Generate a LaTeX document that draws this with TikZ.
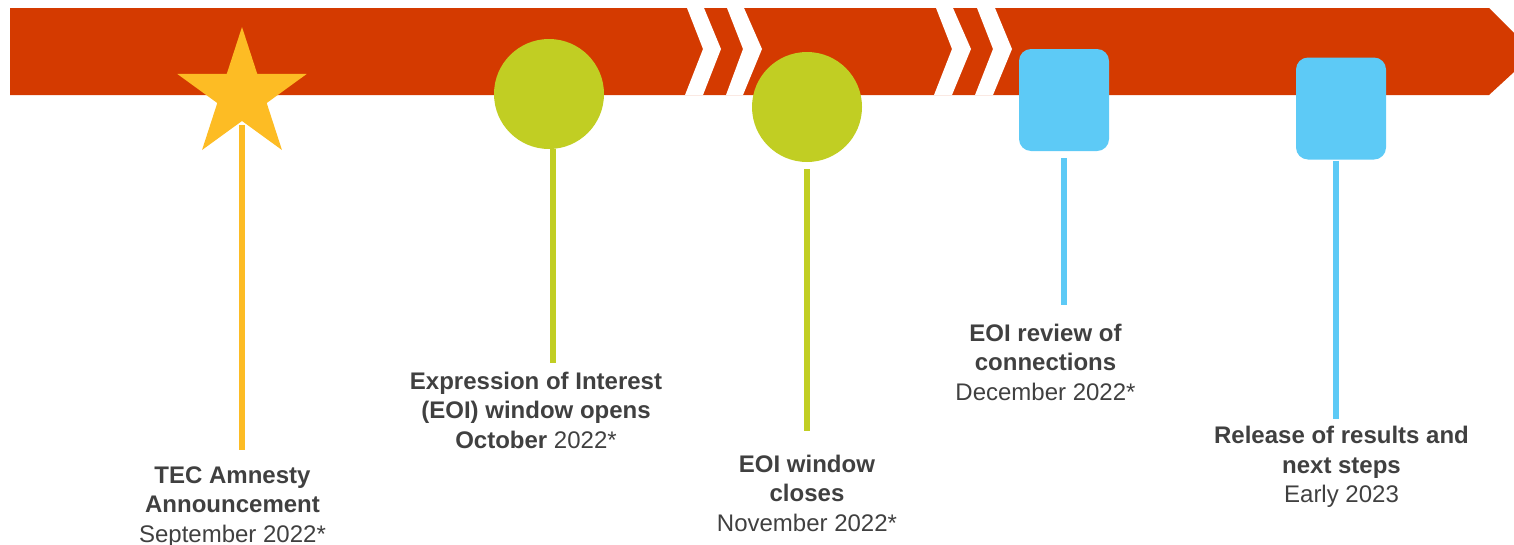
\documentclass[tikz,border=0pt]{standalone}
\usepackage{fontspec}
\setmainfont{Liberation Sans}
\usetikzlibrary{shapes.geometric}
\definecolor{bandred}{RGB}{212,58,0}
\definecolor{staryel}{RGB}{253,188,36}
\definecolor{limegr}{RGB}{193,206,35}
\definecolor{skyblu}{RGB}{93,202,246}
\definecolor{txtgray}{RGB}{64,64,64}
\begin{document}
\begin{tikzpicture}[x=1pt,y=-1pt,
  chev/.style={fill=white,draw=none},
  stem/.style={line width=6pt,line cap=butt},
  lbl/.style={align=center,text=txtgray,inner sep=0pt,font=\fontsize{24}{29.5}\selectfont},
  circ/.style={circle,fill=limegr,minimum size=110pt,inner sep=0pt,draw=none},
  sq/.style={rectangle,rounded corners=12pt,fill=skyblu,minimum width=90pt,minimum height=102pt,inner sep=0pt,draw=none}]
\useasboundingbox (0,0) rectangle (1514,544);
% band arrow
\fill[bandred] (10,8) -- (1489,8) -- (1514,33) -- (1514,72) -- (1489,95) -- (10,95) -- cycle;
% chevrons
\fill[chev] (687,8) -- (704,8) -- (721,49) -- (703,95) -- (685,95) -- (703,49) -- cycle;
\fill[chev] (727,8) -- (744,8) -- (762,49) -- (743,95) -- (726,95) -- (743,49) -- cycle;
\fill[chev] (936,8) -- (953,8) -- (971,49) -- (952,95) -- (934,95) -- (952,49) -- cycle;
\fill[chev] (977,8) -- (995,8) -- (1012,49) -- (993,95) -- (975,95) -- (993,49) -- cycle;
% milestones
\node[star,star points=5,star point ratio=2.618,minimum size=136pt,inner sep=0pt,fill=staryel,draw=none] (star) at (242,95) {};
\node[circ] (c1) at (549,94) {};
\node[circ] (c2) at (807,107) {};
\node[sq] (b1) at (1064,100) {};
\node[sq] (b2) at (1341,108.5) {};
% labels
\node[lbl] (lab1) at (232.5,507) {\textbf{TEC Amnesty}\\\textbf{Announcement}\\September 2022*};
\node[lbl] (lab2) at (536,410) {\textbf{Expression of Interest}\\\textbf{(EOI) window opens}\\\textbf{October} 2022*};
\node[lbl] (lab3) at (807,493) {\textbf{EOI window}\\\textbf{closes}\\November 2022*};
\node[lbl] (lab4) at (1045.5,362) {\textbf{EOI review of}\\\textbf{connections}\\December 2022*};
\node[lbl] (lab5) at (1341.5,467) {\textbf{Release of results and}\\\textbf{next steps}\\Early 2023};
% stems
\draw[stem,staryel] ([yshift=-30pt]star.center) -- ([yshift=-355pt]star.center);
\draw[stem,limegr] ([xshift=4pt]c1.south) -- ([xshift=4pt,yshift=-214pt]c1.south);
\draw[stem,limegr] ([yshift=-7pt]c2.south) -- ([yshift=-269pt]c2.south);
\draw[stem,skyblu] ([yshift=-7pt]b1.south) -- ([yshift=-154pt]b1.south);
\draw[stem,skyblu] ([xshift=-5pt,yshift=-1pt]b2.south) -- ([xshift=-5pt,yshift=-259pt]b2.south);
\end{tikzpicture}
\end{document}
